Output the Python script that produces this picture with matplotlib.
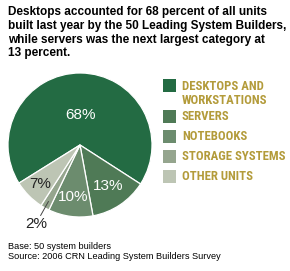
import matplotlib
matplotlib.use("Agg")
import matplotlib.pyplot as plt
import numpy as np
from matplotlib import font_manager

categories = ["DESKTOPS AND\nWORKSTATIONS", "SERVERS", "NOTEBOOKS", "STORAGE SYSTEMS", "OTHER UNITS"]
values = [68, 13, 10, 2, 7]
pct_labels = ["68%", "13%", "10%", "2%", "7%"]
colors = ["#236B43", "#4F7A56", "#6C8C6E", "#95A58E", "#BDC5B4"]
title = ("Desktops accounted for 68 percent of all units\n"
         "built last year by the 50 Leading System Builders,\n"
         "while servers was the next largest category at\n"
         "13 percent.")
footer = "Base: 50 system builders\nSource: 2006 CRN Leading System Builders Survey"

names = {f.name for f in font_manager.fontManager.ttflist}
narrow = "DejaVu Sans"
for cand in ["Roboto Condensed", "Barlow Condensed", "Archivo Narrow",
             "Liberation Sans Narrow", "Oswald"]:
    if cand in names:
        narrow = cand
        break

W, H = 290, 271
fig = plt.figure(figsize=(W / 100, H / 100), dpi=100)
fig.patch.set_facecolor("white")

cx, cy, r = 80, 145, 72
ax = fig.add_axes([(cx - r) / W, (H - cy - r) / H, 2 * r / W, 2 * r / H])
wedges, _ = ax.pie(values, colors=colors, startangle=212, counterclock=False,
                   radius=1, wedgeprops=dict(edgecolor="white", linewidth=0.9))
ax.set_xlim(-1, 1)
ax.set_ylim(-1, 1)
ax.set_aspect("equal")
ax.axis("off")

label_r = [0.42, 0.69, 0.73, 1.25, 0.77]
label_col = ["white", "white", "white", "#222222", "#222222"]
for w, lab, lr, lc in zip(wedges, pct_labels, label_r, label_col):
    th = np.deg2rad((w.theta1 + w.theta2) / 2)
    x, y = lr * np.cos(th), lr * np.sin(th)
    ax.text(x, y, lab, ha="center", va="center", color=lc, fontsize=11,
            family="Liberation Sans", fontweight="medium", clip_on=False)
    if lr > 1:
        ax.plot([0.9 * np.cos(th), 1.12 * np.cos(th)],
                [0.9 * np.sin(th), 1.12 * np.sin(th)],
                color="#444444", lw=0.7, clip_on=False)

fig.text(8 / W, 1 - 6 / H, title, ha="left", va="top", fontsize=8.5,
         fontweight="bold", family="Liberation Sans", linespacing=1.2)

leg_y = [86, 116, 136, 156, 176]
for c, lab, yy in zip(colors, categories, leg_y):
    fig.patches.append(plt.Rectangle((163 / W, 1 - (yy + 6.5) / H), 13 / W, 13 / H,
                                     transform=fig.transFigure, facecolor=c,
                                     edgecolor="none"))
    fig.text(182 / W, 1 - (yy - 6.5) / H, lab, ha="left", va="top",
             fontsize=9.2 if narrow != "DejaVu Sans" else 7.5,
             fontweight="bold", family=narrow,
             color="#B39B3A", linespacing=1.1)

fig.text(8 / W, 1 - 242 / H, footer, ha="left", va="top", fontsize=6.6,
         family="Liberation Sans", linespacing=1.15)

fig.savefig("out.png", dpi=100, facecolor="white")
